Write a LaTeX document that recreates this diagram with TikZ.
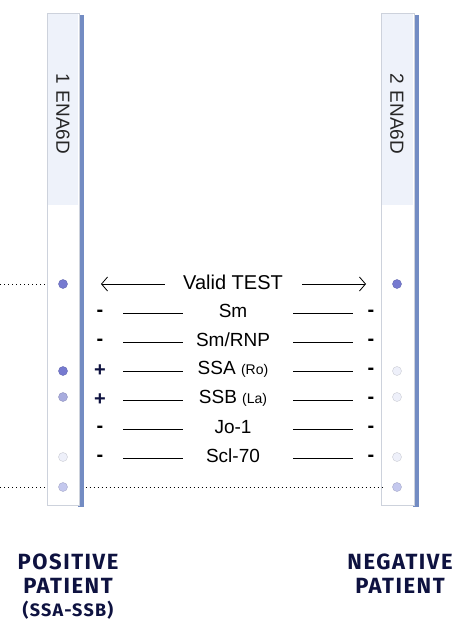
\documentclass[tikz,border=0pt]{standalone}
\usepackage{fontspec}
\setmainfont{Liberation Sans}
\newfontfamily\capfont[LetterSpace=7]{Fira Sans}
\usetikzlibrary{positioning,arrows.meta}
\definecolor{StripEdge}{RGB}{205,210,220}
\definecolor{StripTop}{RGB}{238,242,250}
\definecolor{StripShade}{RGB}{115,140,195}
\definecolor{DotBlue}{RGB}{118,122,208}
\definecolor{DotPale}{RGB}{168,172,222}
\definecolor{DotGhost}{RGB}{238,240,250}
\definecolor{DotLow}{RGB}{196,200,238}
\definecolor{NavyText}{RGB}{14,18,64}

\begin{document}
\begin{tikzpicture}
  [x=1pt,y=-1pt,every node/.style={font=\fontsize{19}{21}\selectfont,inner sep=1pt},
   dot/.style={circle,inner sep=0pt,minimum size=9pt,fill=#1,draw=#1!85!black},
   sign/.style={font=\fontsize{20}{22}\selectfont\bfseries},
   rule/.style={thin},
   patient/.style={font=\capfont\bfseries\fontsize{22}{24}\selectfont,text=NavyText,align=center},
   >={Straight Barb[length=6pt,width=14pt]}]
\useasboundingbox (0,0) rectangle (466,634);

% strips
\fill[StripShade] (78,15) rectangle (84,507);
\draw[StripEdge,fill=white] (47,13) rectangle (79,505);
\fill[StripTop] (48,14) rectangle (78,205);
\node (s1text) [rotate=-90,text=black!85] at (63,114) {1\,\,ENA6D};

\fill[StripShade] (413,15) rectangle (419,507);
\draw[StripEdge,fill=white] (381,13) rectangle (414,505);
\fill[StripTop] (382,14) rectangle (413,205);
\node (s2text) [rotate=-90,text=black!85] at (397,114) {2\,\,ENA6D};

% dots on strip 1
\node (d1v) [dot=DotBlue] at (63,284) {};
\node (d1a) [dot=DotBlue] at (63,371) {};
\node (d1b) [dot=DotPale] at (63,397) {};
\node (d1g) [dot=DotGhost] at (63,457) {};
\node (d1c) [dot=DotLow] at (63,487) {};

% dots on strip 2
\node (d2v) [dot=DotBlue] at (397,284) {};
\node (d2a) [dot=DotGhost] at (397,371) {};
\node (d2b) [dot=DotGhost] at (397,397) {};
\node (d2g) [dot=DotGhost] at (397,457) {};
\node (d2c) [dot=DotLow] at (397,487) {};

% valid test
\node (valid) [font=\fontsize{20}{22}\selectfont] at (233,282) {Valid TEST};
\coordinate (vleft) at (101,284);
\coordinate (vright) at (366,284);
\draw[->,thick] ([xshift=-17pt,yshift=-2pt]valid.west) -- (vleft);
\draw[->,thick] ([xshift=18pt,yshift=-2pt]valid.east) -- (vright);

% control lines
\coordinate (c1) at (0,284);
\coordinate (c2) at (0,487);
\coordinate (e1) at (45,284);
\coordinate (e2) at (45,487);
\draw[dash pattern=on 1pt off 3pt] (c1) -- (e1);
\draw[dash pattern=on 1pt off 3pt] (c2) -- (e2);
\draw[dash pattern=on 1pt off 3pt] ([xshift=18pt]d1c.east) -- ([xshift=-10pt]d2c.west);

% antigens
\node (l1) at (233,311) {Sm};
\node (l2) at (233,340) {Sm/RNP};
\node (l3) at (233,369) {SSA {\fontsize{14}{16}\selectfont(Ro)}};
\node (l4) at (233,398) {SSB {\fontsize{14}{16}\selectfont(La)}};
\node (l5) at (233,427) {Jo-1};
\node (l6) at (233,456) {Scl-70};

\node (p1) [sign] at (100,313) {-};
\node (p2) [sign] at (100,342) {-};
\node (p3) [sign,text=NavyText] at (100,371) {+};
\node (p4) [sign,text=NavyText] at (100,400) {+};
\node (p5) [sign] at (100,429) {-};
\node (p6) [sign] at (100,458) {-};

\node (n1) [sign] at (371,313) {-};
\node (n2) [sign] at (371,342) {-};
\node (n3) [sign] at (371,371) {-};
\node (n4) [sign] at (371,400) {-};
\node (n5) [sign] at (371,429) {-};
\node (n6) [sign] at (371,458) {-};

\foreach \i in {1,...,6}{
  \draw[rule] ([xshift=23pt]p\i.center) -- ([xshift=83pt]p\i.center);
  \draw[rule] ([xshift=-78pt]n\i.center) -- ([xshift=-18pt]n\i.center);
}

% patients
\node (pos) [patient,anchor=north] at (68,553)
  {POSITIVE\\PATIENT\\[-1pt]{\fontsize{18}{20}\selectfont(SSA-SSB)}};
\node (neg) [patient,anchor=north] at (400,553)
  {NEGATIVE\\PATIENT};
\end{tikzpicture}
\end{document}
